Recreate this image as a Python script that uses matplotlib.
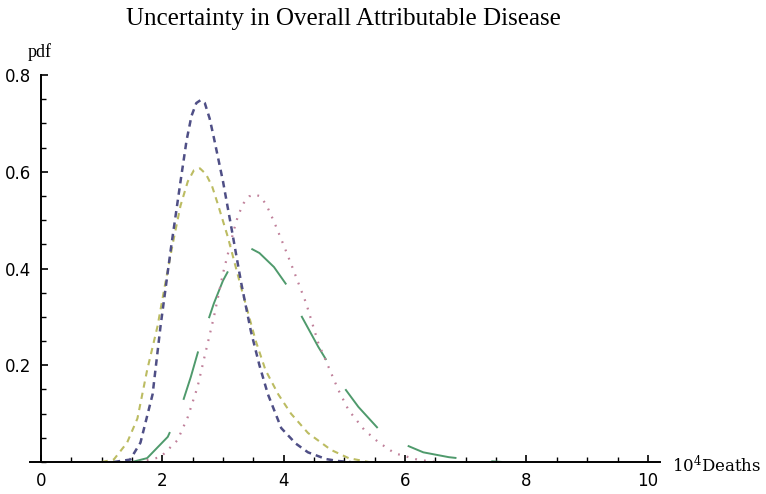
import matplotlib
matplotlib.use("Agg")
import matplotlib.pyplot as plt
from matplotlib.ticker import MultipleLocator

plt.rcParams['mathtext.fontset'] = 'dejavuserif'

# curves (x in 10^4 deaths, y = pdf)
blue_x = [1.2, 1.47, 1.64, 1.84, 1.97, 2.14, 2.30, 2.40, 2.48, 2.56, 2.63, 2.70, 2.78, 2.85, 3.0, 3.13, 3.30, 3.46, 3.60, 3.74, 3.96, 4.20, 4.40, 4.70, 4.90, 5.1]
blue_y = [0.0, 0.005, 0.04, 0.14, 0.28, 0.44, 0.58, 0.665, 0.715, 0.742, 0.748, 0.742, 0.71, 0.67, 0.58, 0.49, 0.37, 0.27, 0.20, 0.14, 0.07, 0.038, 0.02, 0.006, 0.002, 0.0]

yellow_x = [1.0, 1.2, 1.42, 1.59, 1.75, 1.92, 2.05, 2.17, 2.30, 2.42, 2.52, 2.62, 2.72, 2.82, 2.91, 3.08, 3.30, 3.54, 3.70, 3.91, 4.12, 4.40, 4.78, 5.07, 5.4]
yellow_y = [0.0, 0.005, 0.04, 0.09, 0.19, 0.28, 0.37, 0.45, 0.53, 0.58, 0.603, 0.607, 0.595, 0.57, 0.535, 0.465, 0.36, 0.25, 0.19, 0.14, 0.10, 0.06, 0.025, 0.008, 0.0]

pink_x = [1.6, 1.97, 2.25, 2.42, 2.58, 2.70, 2.85, 3.0, 3.10, 3.18, 3.25, 3.34, 3.43, 3.52, 3.62, 3.72, 3.84, 4.0, 4.12, 4.37, 4.57, 4.90, 5.07, 5.33, 5.56, 5.83, 6.2, 6.5]
pink_y = [0.0, 0.01, 0.045, 0.093, 0.155, 0.22, 0.30, 0.39, 0.44, 0.48, 0.51, 0.535, 0.549, 0.553, 0.549, 0.53, 0.497, 0.448, 0.41, 0.328, 0.246, 0.149, 0.107, 0.066, 0.041, 0.018, 0.005, 0.0]

green_x = [1.5, 1.75, 2.09, 2.30, 2.47, 2.63, 2.85, 3.0, 3.18, 3.32, 3.45, 3.60, 3.84, 4.07, 4.30, 4.57, 4.90, 5.23, 5.55, 5.94, 6.30, 6.72, 7.15, 7.6]
green_y = [0.0, 0.008, 0.052, 0.11, 0.176, 0.246, 0.328, 0.375, 0.417, 0.437, 0.442, 0.432, 0.403, 0.362, 0.30, 0.238, 0.17, 0.114, 0.07, 0.039, 0.02, 0.01, 0.004, 0.0]

fig = plt.figure(figsize=(7.66, 4.94), dpi=100)
ax = fig.add_axes([30/766, 32/494, 630/766, 387/494])

ax.plot(green_x, green_y, color='#4f9a6c', lw=1.4, dashes=(26, 18))
ax.plot(pink_x, pink_y, color='#c0809a', lw=1.6, dashes=(0.8, 3.2))
ax.plot(yellow_x, yellow_y, color='#bcbc62', lw=1.5, dashes=(3, 2.5))
ax.plot(blue_x, blue_y, color='#4f4f86', lw=1.8, dashes=(2.6, 2.0))

ax.set_xlim(-0.18, 10.2)
ax.set_ylim(0, 0.8)

for s in ['top', 'right']:
    ax.spines[s].set_visible(False)
ax.spines['left'].set_position(('data', 0))
ax.spines['left'].set_bounds(0, 0.8)
ax.spines['left'].set_linewidth(1.4)
ax.spines['bottom'].set_linewidth(1.4)

ax.xaxis.set_major_locator(MultipleLocator(2))
ax.xaxis.set_minor_locator(MultipleLocator(0.5))
ax.yaxis.set_minor_locator(MultipleLocator(0.05))
ax.set_yticks([0.2, 0.4, 0.6, 0.8])
ax.set_yticklabels(['0.2', '0.4', '0.6', '0.8'])
ax.tick_params(axis='both', which='major', direction='in', length=5, width=1.2,
               labelsize=12, pad=7)
ax.tick_params(axis='both', which='minor', direction='in', length=3.5, width=1.0)

fig.text(0.448, 0.962, 'Uncertainty in Overall Attributable Disease',
         ha='center', va='center', fontsize=18, family='Liberation Serif')
fig.text(0.052, 0.895, 'pdf', ha='center', va='center', fontsize=13,
         family='Liberation Serif')
fig.text(0.877, 0.057, r'$10^{4}$Deaths', ha='left', va='center', fontsize=12,
         family='DejaVu Serif')

fig.savefig('out.png', dpi=100)
